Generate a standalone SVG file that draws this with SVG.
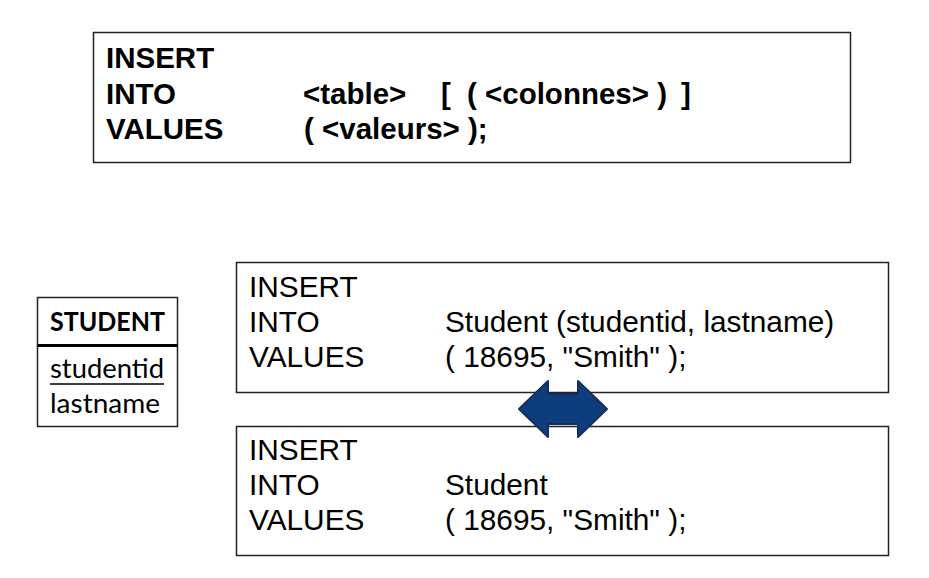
<svg xmlns="http://www.w3.org/2000/svg" width="929" height="578" viewBox="0 0 929 578">
<style>
.box{fill:#fff;stroke:#222;stroke-width:1.5}
.b{font-family:"Liberation Sans",Arial,sans-serif;font-weight:bold;font-size:29.5px;fill:#000}
.r{font-family:"Liberation Sans",Arial,sans-serif;font-size:29.8px;fill:#000}
.c{font-family:Lato,"Open Sans",sans-serif;font-size:27.5px;fill:#000}
</style>
<rect width="929" height="578" fill="#fff"/>
<g id="syntax">
<rect class="box" x="93.5" y="32.5" width="757" height="130"/>
<text class="b" x="106" y="68">INSERT</text>
<text class="b" x="106" y="103.5">INTO</text>
<text class="b" x="303" y="103.5">&lt;table&gt;</text>
<text class="b" x="441" y="103.5">[</text>
<text class="b" x="467" y="103.5">( &lt;colonnes&gt; )</text>
<text class="b" x="681" y="103.5">]</text>
<text class="b" x="106" y="139">VALUES</text>
<text class="b" x="304" y="139">( &lt;valeurs&gt; );</text>
</g>
<g id="student-table">
<rect class="box" x="37.5" y="297.5" width="140" height="129"/>
<line x1="37.5" y1="345.5" x2="177.5" y2="345.5" stroke="#000" stroke-width="3"/>
<text class="c" x="50" y="331" font-weight="bold" textLength="115" lengthAdjust="spacingAndGlyphs">STUDENT</text>
<text class="c" x="50" y="378" textLength="114" lengthAdjust="spacingAndGlyphs">studentid</text>
<line x1="50" y1="384" x2="164" y2="384" stroke="#000" stroke-width="1.5"/>
<text class="c" x="50" y="413" textLength="110" lengthAdjust="spacingAndGlyphs">lastname</text>
</g>
<g id="example-with-columns">
<rect class="box" x="236.5" y="262.5" width="652" height="130"/>
<text class="r" x="249" y="297">INSERT</text>
<text class="r" x="249" y="332">INTO</text>
<text class="r" x="445" y="332">Student (studentid, lastname)</text>
<text class="r" x="249" y="367">VALUES</text>
<text class="r" x="445" y="367">( 18695, "Smith" );</text>
</g>
<g id="example-without-columns">
<rect class="box" x="236.5" y="426.5" width="652" height="129"/>
<text class="r" x="249" y="460">INSERT</text>
<text class="r" x="249" y="495">INTO</text>
<text class="r" x="445" y="495">Student</text>
<text class="r" x="249" y="530">VALUES</text>
<text class="r" x="445" y="530">( 18695, "Smith" );</text>
</g>
<g id="connectors">
<path d="M519,409 L548,381 L548,394 L578,394 L578,381 L607,409 L578,437 L578,424 L548,424 L548,437 Z" fill="#0E3D7E" stroke="#142F5C" stroke-width="2" stroke-linejoin="round"/>
</g>
</svg>
